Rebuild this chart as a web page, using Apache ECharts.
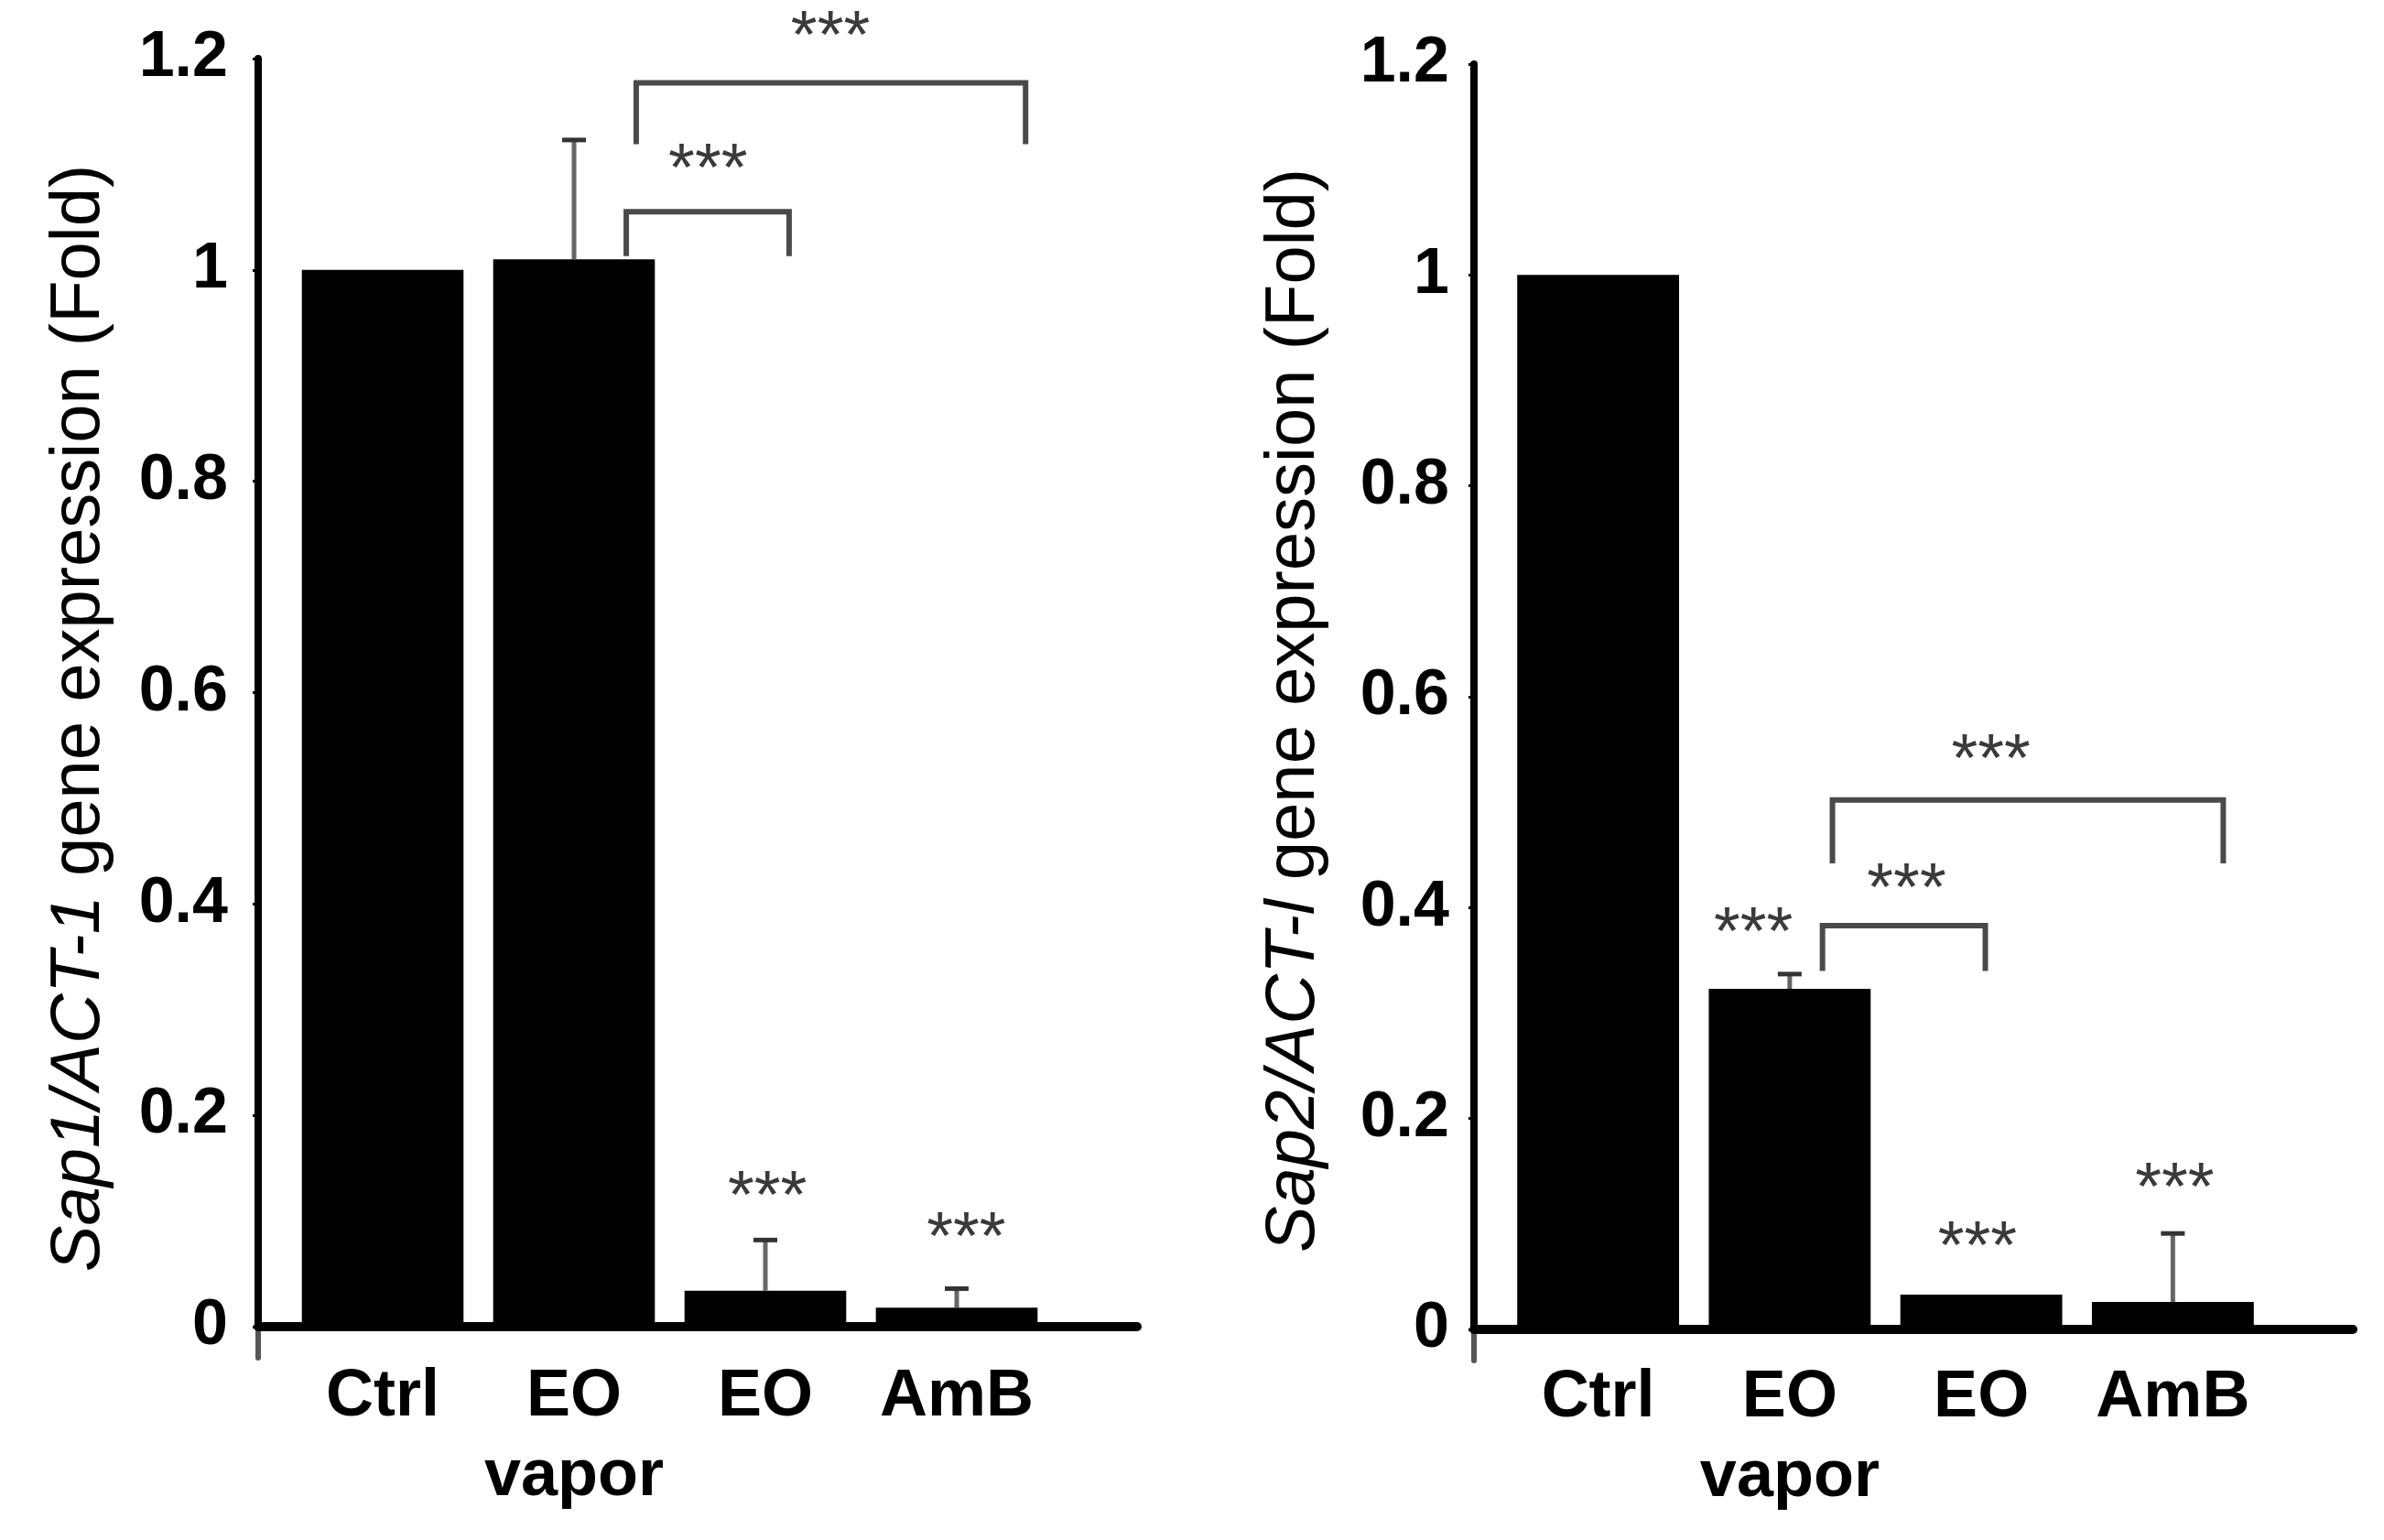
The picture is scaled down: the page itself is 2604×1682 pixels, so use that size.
<!DOCTYPE html>
<html>
<head>
<meta charset="utf-8">
<script src="https://cdn.jsdelivr.net/npm/echarts@6/dist/echarts.min.js"></script>
<style>
html,body{margin:0;padding:0;background:#fff;}
#chart{width:2604px;height:1682px;}
</style>
</head>
<body>
<div id="chart"></div>
<script>
// ---- data ----
const categories = ['Ctrl', 'EO\nvapor', 'EO', 'AmB'];
const yTickLabels = ['0', '0.2', '0.4', '0.6', '0.8', '1', '1.2'];

// Panel 1: Sap1/ACT-1
const sap1Values = [1.0, 1.01, 0.034, 0.018];
const sap1Errors = [0, 0.113, 0.048, 0.018];
// brackets: [yTop, xStart, xEnd, yLegLeft, yLegRight] (x in category units)
const sap1Brackets = [
  [1.177, 1.325, 3.36, 1.119, 1.119],
  [1.055, 1.273, 2.124, 1.013, 1.013]
];
// stars: [y, x]
const sap1Stars = [
  [1.232, 2.34],
  [1.107, 1.70],
  [0.135, 2.01],
  [0.096, 3.05]
];

// Panel 2: Sap2/ACT-l
const sap2Values = [1.0, 0.323, 0.033, 0.026];
const sap2Errors = [0, 0.014, 0, 0.065];
const sap2Brackets = [
  [0.502, 1.223, 3.263, 0.442, 0.442],
  [0.383, 1.171, 2.021, 0.340, 0.340]
];
const sap2Stars = [
  [0.552, 2.05],
  [0.429, 1.61],
  [0.388, 0.81],
  [0.090, 1.98],
  [0.145, 3.01]
];

const FONT = 'Liberation Sans';

function errData(vals, errs) {
  const out = [];
  vals.forEach((v, i) => { if (errs[i] > 0) out.push([i, v, v + errs[i]]); });
  return out;
}
function renderErr(params, api) {
  const x = api.value(0);
  const lo = api.coord([x, api.value(1)]);
  const hi = api.coord([x, api.value(2)]);
  const cap = 13;
  return {
    type: 'group',
    children: [
      { type: 'line', shape: { x1: lo[0], y1: lo[1], x2: hi[0], y2: hi[1] }, style: { stroke: '#666', lineWidth: 5 } },
      { type: 'line', shape: { x1: hi[0] - cap, y1: hi[1], x2: hi[0] + cap, y2: hi[1] }, style: { stroke: '#333', lineWidth: 5 } }
    ]
  };
}
function renderBracket(params, api) {
  const base = api.coord([0, 0]);
  const bw = api.size([1, 0])[0];
  const x1 = base[0] + api.value(2) * bw;
  const x2 = base[0] + api.value(3) * bw;
  const yTop = api.coord([0, api.value(1)])[1];
  const yL = api.coord([0, api.value(4)])[1];
  const yR = api.coord([0, api.value(5)])[1];
  return {
    type: 'polyline',
    shape: { points: [[x1, yL], [x1, yTop], [x2, yTop], [x2, yR]] },
    style: { stroke: '#4a4a4a', lineWidth: 6, fill: null, lineJoin: 'miter' }
  };
}
function renderStars(params, api) {
  const base = api.coord([0, 0]);
  const bw = api.size([1, 0])[0];
  const x = base[0] + api.value(2) * bw;
  const y = api.coord([0, api.value(1)])[1];
  return {
    type: 'text',
    x: x, y: y + 16,
    style: { text: '***', font: '74px "' + FONT + '"', fill: '#3a3a3a', align: 'center', verticalAlign: 'middle' }
  };
}

function panel(idx, cfg) {
  const g = idx * 3; // bar grid g; axis-line grid g+1; axis tail grid g+2
  return {
    grids: [
      { left: cfg.barLeft, width: cfg.barWidth, top: cfg.top, bottom: cfg.bottom },
      { left: cfg.axisLeft, width: cfg.axisWidth, top: cfg.top, bottom: cfg.bottom },
      { left: cfg.axisLeft, width: 10, top: 1682 - cfg.bottom, height: 34 }
    ],
    xAxes: [
      {
        type: 'category', gridIndex: g, data: categories,
        axisLine: { show: false }, axisTick: { show: false },
        axisLabel: { interval: 0, fontFamily: FONT, fontWeight: 'bold', fontSize: 72, color: '#000', lineHeight: 87, margin: cfg.catMargin }
      },
      {
        type: 'value', gridIndex: g + 1, min: 0, max: 1,
        axisLine: { show: true, onZero: false, lineStyle: { color: '#000', width: 10 } },
        axisTick: { show: false }, axisLabel: { show: false }, splitLine: { show: false }
      },
      { type: 'value', gridIndex: g + 2, show: false, min: 0, max: 1 }
    ],
    yAxes: [
      {
        type: 'value', gridIndex: g, min: 0, max: 1.2, interval: 0.2,
        offset: cfg.barLeft - cfg.axisLeft,
        axisLine: { show: true, lineStyle: { color: '#000', width: 8 } },
        axisTick: { show: true, length: 6, lineStyle: { color: '#000', width: 3 } },
        splitLine: { show: false },
        axisLabel: {
          fontFamily: FONT, fontWeight: 'bold', fontSize: 70, color: '#000', margin: cfg.labelMargin,
          padding: [0, 0, 14, 0],
          formatter: v => yTickLabels[Math.round(v / 0.2)]
        },
        name: cfg.title, nameLocation: 'middle', nameRotate: 90, nameGap: cfg.nameGap,
        nameTextStyle: {
          fontFamily: FONT, fontSize: 76, color: '#000', padding: [0, cfg.namePad, 0, 0],
          rich: { i: { fontFamily: FONT, fontSize: 76, fontStyle: 'italic', color: '#000' } }
        }
      },
      { type: 'value', gridIndex: g + 1, show: false, min: 0, max: 1 },
      {
        type: 'value', gridIndex: g + 2, min: 0, max: 1,
        axisLine: { show: true, onZero: false, lineStyle: { color: '#555', width: 6 } },
        axisTick: { show: false }, axisLabel: { show: false }, splitLine: { show: false }
      }
    ],
    series: [
      {
        type: 'bar', xAxisIndex: g, yAxisIndex: g, data: cfg.values,
        barWidth: '84.5%', itemStyle: { color: '#000' }, z: 2
      },
      {
        type: 'custom', xAxisIndex: g, yAxisIndex: g, renderItem: renderErr,
        data: errData(cfg.values, cfg.errors), encode: { x: 0, y: 1 }, z: 3, silent: true
      },
      {
        type: 'custom', xAxisIndex: g, yAxisIndex: g, renderItem: renderBracket,
        data: cfg.brackets.map(b => [0].concat(b)), encode: { x: 0, y: 1 }, z: 3, silent: true
      },
      {
        type: 'custom', xAxisIndex: g, yAxisIndex: g, renderItem: renderStars,
        data: cfg.stars.map(s => [0].concat(s)), encode: { x: 0, y: 1 }, z: 3, silent: true
      }
    ]
  };
}

const p1 = panel(0, {
  barLeft: 313.5, barWidth: 836, axisLeft: 282, axisWidth: 960, top: 64, bottom: 233,
  catMargin: 34, labelMargin: 33, nameGap: 157, namePad: 56,
  title: '{i|Sap1/ACT-1} gene expression (Fold)',
  values: sap1Values, errors: sap1Errors, brackets: sap1Brackets, stars: sap1Stars
});
const p2 = panel(1, {
  barLeft: 1641, barWidth: 837, axisLeft: 1610, axisWidth: 960, top: 70, bottom: 230,
  catMargin: 32, labelMargin: 27, nameGap: 158, namePad: 30,
  title: '{i|Sap2/ACT-l} gene expression (Fold)',
  values: sap2Values, errors: sap2Errors, brackets: sap2Brackets, stars: sap2Stars
});

const chart = echarts.init(document.getElementById('chart'), null, { renderer: 'canvas' });
chart.setOption({
  backgroundColor: '#fff',
  animation: false,
  grid: p1.grids.concat(p2.grids),
  xAxis: p1.xAxes.concat(p2.xAxes),
  yAxis: p1.yAxes.concat(p2.yAxes),
  series: p1.series.concat(p2.series)
});
</script>
</body>
</html>
